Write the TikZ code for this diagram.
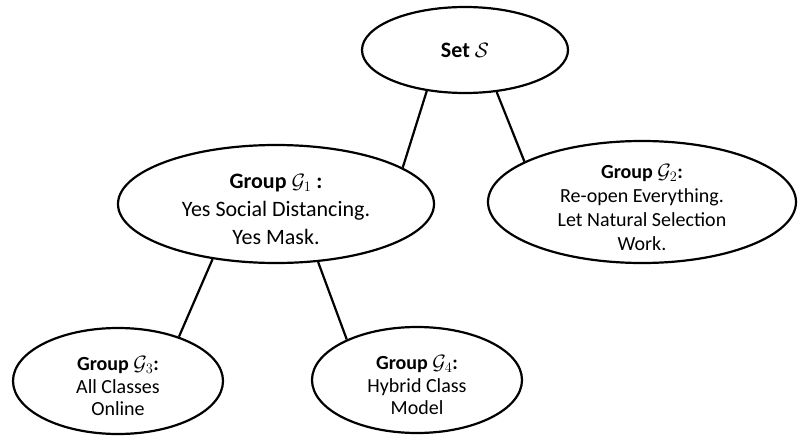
\documentclass[tikz,border=0pt]{standalone}
\usepackage{fontspec}
\setmainfont{Carlito}
\usetikzlibrary{shapes.geometric}
\begin{document}
\begin{tikzpicture}[x=1pt,y=-1pt,
  oval/.style={ellipse,draw,line width=2.2pt,inner sep=0pt},
  txt/.style={inner sep=0pt,align=center,yshift=-5pt},
  big/.style={font=\fontsize{22}{28}\selectfont},
  mid/.style={font=\fontsize{20}{24}\selectfont},
  small/.style={font=\fontsize{20}{22.5}\selectfont},
  link/.style={line width=2.2pt}]
\useasboundingbox (0,0) rectangle (798,436);
\node[oval,minimum width=206pt,minimum height=86pt] (s) at (465,50) {};
\node[txt,big,yshift=5pt] (st) at (s) {\textbf{Set} $\mathcal{S}$};
\node[oval,minimum width=316pt,minimum height=118pt] (g1) at (276,204) {};
\node[txt,big] (g1t) at (g1) {\textbf{Group} $\mathcal{G}_1$ \textbf{:}\\Yes Social Distancing.\\Yes Mask.};
\node[oval,minimum width=308pt,minimum height=122pt] (g2) at (642,202) {};
\node[txt,mid] (g2t) at (g2) {\textbf{Group} $\mathcal{G}_2$\textbf{:}\\Re-open Everything.\\Let Natural Selection\\Work.};
\node[oval,minimum width=210pt,minimum height=106pt] (g3) at (118,381) {};
\node[txt,small] (g3t) at (g3) {\textbf{Group} $\mathcal{G}_3$\textbf{:}\\All Classes\\Online};
\node[oval,minimum width=210pt,minimum height=106pt] (g4) at (417,380) {};
\node[txt,small] (g4t) at (g4) {\textbf{Group} $\mathcal{G}_4$\textbf{:}\\Hybrid Class\\Model};
\draw[link] (s.-133.6) -- (g1.16.8);
\draw[link] (s.-53.6) -- (g2.161.8);
\draw[link] (g1.-139.7) -- (g3.36.7);
\draw[link] (g1.-54.6) -- (g4.150.1);
\end{tikzpicture}
\end{document}
